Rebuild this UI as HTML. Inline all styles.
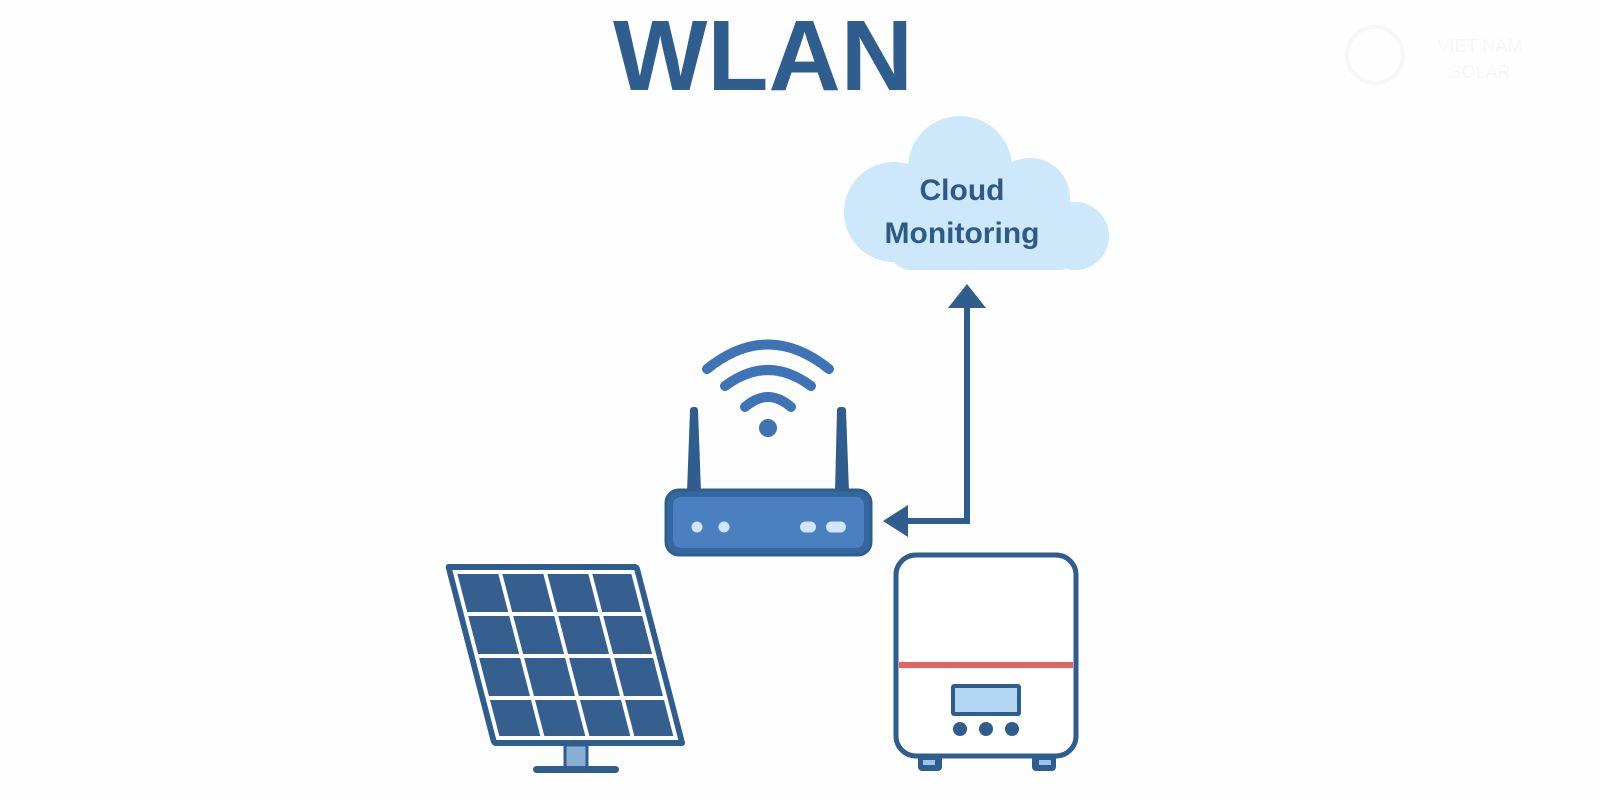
<!DOCTYPE html>
<html><head><meta charset="utf-8"><style>
html,body{margin:0;padding:0;background:#fff;width:1600px;height:800px;overflow:hidden}
</style></head><body>
<svg width="1600" height="800" viewBox="0 0 1600 800" xmlns="http://www.w3.org/2000/svg">
<rect width="1600" height="800" fill="#fefefe"/>
<text x="763" y="90" text-anchor="middle" font-family="Liberation Sans, sans-serif" font-weight="bold" font-size="100" fill="#2f5d8e">WLAN</text>
<text x="1480" y="52" text-anchor="middle" font-family="Liberation Sans, sans-serif" font-size="18" fill="#f7f7f7">VIET NAM</text>
<text x="1480" y="78" text-anchor="middle" font-family="Liberation Sans, sans-serif" font-size="18" fill="#f7f7f7">SOLAR</text>
<circle cx="1375" cy="55" r="28" fill="none" stroke="#f7f7f7" stroke-width="4"/>
<!-- cloud -->
<g fill="#cde8fa">
<circle cx="960" cy="168" r="52"/>
<circle cx="894" cy="212" r="50"/>
<circle cx="1030" cy="198" r="40"/>
<circle cx="1075" cy="236" r="34"/>
<rect x="890" y="200" width="190" height="70" rx="20"/>
</g>
<text x="962" y="200" text-anchor="middle" font-family="Liberation Sans, sans-serif" font-weight="bold" font-size="30" fill="#2f5a86">Cloud</text>
<text x="962" y="243" text-anchor="middle" font-family="Liberation Sans, sans-serif" font-weight="bold" font-size="30" fill="#2f5a86">Monitoring</text>
<!-- connector -->
<polyline points="967,305 967,521 905,521" fill="none" stroke="#2f5d8e" stroke-width="6"/>
<polygon points="967,284 986,308 948,308" fill="#2f5d8e"/>
<polygon points="883,521 908,505 908,537" fill="#2f5d8e"/>
<!-- wifi -->
<g fill="none" stroke="#3e73b6" stroke-width="10" stroke-linecap="round">
<path d="M745,407 Q768,387 791,407"/>
<path d="M725,386 Q768,354 811,386"/>
<path d="M707,369 Q768,320 829,369"/>
</g>
<circle cx="768" cy="428" r="9" fill="#3e73b6"/>
<!-- antennas -->
<path d="M693,410 L690,492 L698,492 L695,410 Z" fill="#2f5d8e" stroke="#2f5d8e" stroke-width="6" stroke-linejoin="round"/>
<path d="M840,410 L838,492 L846,492 L843,410 Z" fill="#2f5d8e" stroke="#2f5d8e" stroke-width="6" stroke-linejoin="round"/>
<!-- router -->
<rect x="666" y="490" width="205" height="65" rx="13" fill="#3466a0" stroke="#2f5d8e" stroke-width="3"/>
<rect x="673" y="497" width="191" height="51" rx="8" fill="#4a7fc0"/>
<g fill="#cfe6fb">
<circle cx="697" cy="527" r="5.5"/><circle cx="724" cy="527" r="5.5"/>
<rect x="800" y="521.5" width="16" height="11" rx="5.5"/>
<rect x="826" y="521.5" width="20" height="11" rx="5.5"/>
</g>
<!-- solar panel -->
<rect x="565" y="745" width="22" height="23" fill="#8aaed2" stroke="#2f5d8e" stroke-width="3"/>
<rect x="533" y="766" width="86" height="7" rx="3.5" fill="#2f5d8e"/>
<g transform="matrix(1 0 0.259 1 -146.3 0)">
<rect x="446" y="565" width="192" height="180" rx="3" fill="#2f5d8e" stroke="#2f5d8e" stroke-width="2"/>
<rect x="451" y="570" width="182" height="170" fill="#ffffff"/>
<g fill="#345f8e">
<rect x="455" y="574" width="41" height="38"/><rect x="500" y="574" width="41" height="38"/><rect x="545" y="574" width="41" height="38"/><rect x="590" y="574" width="39" height="38"/>
<rect x="455" y="616" width="41" height="38"/><rect x="500" y="616" width="41" height="38"/><rect x="545" y="616" width="41" height="38"/><rect x="590" y="616" width="39" height="38"/>
<rect x="455" y="658" width="41" height="38"/><rect x="500" y="658" width="41" height="38"/><rect x="545" y="658" width="41" height="38"/><rect x="590" y="658" width="39" height="38"/>
<rect x="455" y="700" width="41" height="36"/><rect x="500" y="700" width="41" height="36"/><rect x="545" y="700" width="41" height="36"/><rect x="590" y="700" width="39" height="36"/>
</g>
</g>
<!-- inverter -->
<rect x="918" y="752" width="24" height="19" rx="4" fill="#2f5d8e"/>
<rect x="1032" y="752" width="24" height="19" rx="4" fill="#2f5d8e"/>
<rect x="923" y="760" width="12" height="5" fill="#9cc3e8"/>
<rect x="1039" y="760" width="12" height="5" fill="#9cc3e8"/>
<rect x="896" y="555" width="180" height="201" rx="20" fill="#fff" stroke="#2f5d8e" stroke-width="5"/>
<rect x="899" y="662" width="174" height="6" fill="#e26262"/>
<rect x="951" y="684" width="70" height="32" rx="3" fill="#2f5d8e"/>
<rect x="955" y="688" width="62" height="24" fill="#b3d6f2"/>
<g fill="#2f5d8e"><circle cx="960" cy="729" r="7"/><circle cx="986" cy="729" r="7"/><circle cx="1012" cy="729" r="7"/></g>
</svg>
</body></html>
